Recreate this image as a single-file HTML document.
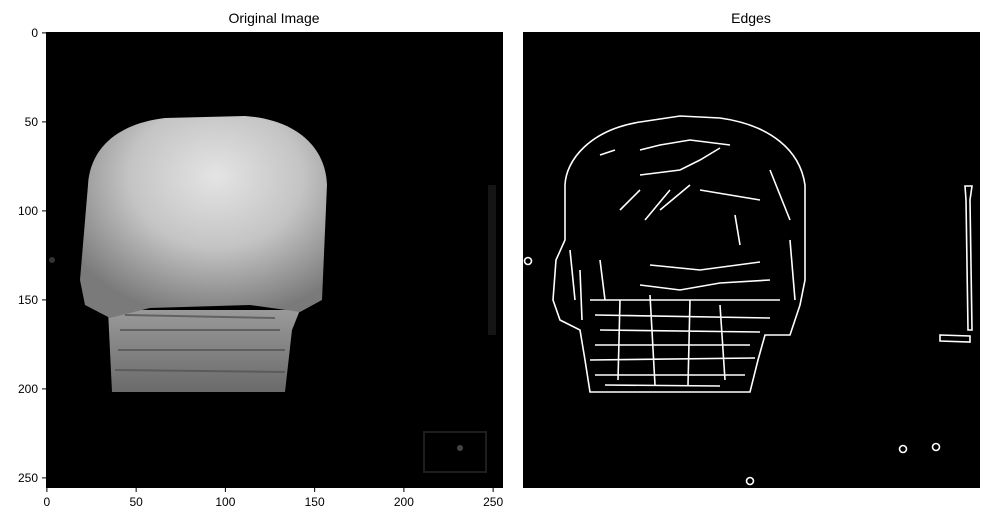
<!DOCTYPE html>
<html><head><meta charset="utf-8"><style>
html,body{margin:0;padding:0;background:#fff;width:989px;height:522px;overflow:hidden;font-family:"Liberation Sans","DejaVu Sans",sans-serif}
</style></head><body>
<svg width="989" height="522" viewBox="0 0 989 522" xmlns="http://www.w3.org/2000/svg">
<defs>
<radialGradient id="g1" cx="0.55" cy="0.3" r="0.7">
<stop offset="0" stop-color="#e4e4e4"/><stop offset="0.5" stop-color="#c4c4c4"/><stop offset="1" stop-color="#7a7a7a"/>
</radialGradient>
<linearGradient id="g2" x1="0" y1="0" x2="0" y2="1">
<stop offset="0" stop-color="#9a9a9a"/><stop offset="1" stop-color="#6a6a6a"/>
</linearGradient>
</defs>
<text x="274" y="23" text-anchor="middle" font-size="14" fill="#000">Original Image</text>
<text x="751" y="23" text-anchor="middle" font-size="14" fill="#000">Edges</text>

<g>
<rect x="46" y="32" width="457" height="456" fill="#000"/>
<path d="M108,310 L112,392 L285,392 L292,330 L300,310 Z" fill="url(#g2)"/>
<path d="M88,185 C90,150 115,124 165,118 L245,116 C300,120 326,150 327,185 L322,300 L300,312 L250,305 L150,308 L110,318 L85,305 L80,280 Z" fill="url(#g1)"/>
<g stroke="#555" stroke-width="2" fill="none" opacity="0.8">
<path d="M120,330 L280,330 M118,350 L285,350 M115,370 L285,372 M125,315 L275,318"/>
</g>
<rect x="488" y="185" width="8" height="150" fill="#151515"/>
<rect x="424" y="432" width="62" height="40" fill="none" stroke="#1e1e1e" stroke-width="2"/>
<circle cx="460" cy="448" r="3" fill="#444"/>
<circle cx="52" cy="260" r="3" fill="#333"/>
</g>

<g>
<rect x="523" y="32" width="457" height="456" fill="#000"/>
<g stroke="#fff" stroke-width="1.6" fill="none">
<path d="M565,185 C566,160 590,130 640,122 L680,116 L720,118 C770,125 800,150 805,185 L805,280 L800,305 L790,335 L765,335 L758,360 L750,392 L590,392 L585,360 L580,330 L560,320 L553,300 L556,260 L565,240 Z"/>
<path d="M600,155 L615,150 M640,150 L660,145 L690,140 L730,145 M640,175 L680,170 L700,160 L720,148 M620,210 L640,190 M645,220 L670,190 M660,210 L690,185 M735,215 L740,245 M700,190 L730,195 L760,200 M770,170 L790,220 M580,270 L582,320 M600,260 L605,300 M650,265 L700,270 L760,262 M640,285 L680,290 L720,283 L770,280 M590,300 L780,300 M595,315 L770,318 M600,330 L760,332 M595,345 L750,345 M590,360 L755,358 M595,375 L745,375 M605,385 L720,386 M620,300 L618,380 M650,295 L655,385 M690,300 L688,385 M720,305 L725,380 M570,250 L575,300 M790,240 L795,300"/>
<path d="M965,186 L972,186 L970,200 L972,330 L968,330 L966,200 Z M940,335 L970,336 L970,342 L940,341 Z"/>
<circle cx="528" cy="261" r="3.5"/>
<circle cx="903" cy="449" r="3.5"/>
<circle cx="936" cy="447" r="3.5"/>
<circle cx="750" cy="481" r="3.5"/>
</g>
</g>

<g id="axes" font-size="12" fill="#000" stroke="none"></g>
</svg>
<script>
const xTicks=[0,50,100,150,200,250];
const yTicks=[0,50,100,150,200,250];
const ax=document.getElementById('axes');
const NS='http://www.w3.org/2000/svg';
const px=v=>46+(v+0.5)*1.785;
const py=v=>32+(v+0.5)*1.78;
xTicks.forEach(t=>{
  const l=document.createElementNS(NS,'line');
  l.setAttribute('x1',px(t));l.setAttribute('x2',px(t));l.setAttribute('y1',488);l.setAttribute('y2',492);l.setAttribute('stroke','#000');
  
  
  ax.appendChild(l);
  const tx=document.createElementNS(NS,'text');
  tx.setAttribute('x',px(t));tx.setAttribute('y',506);tx.setAttribute('text-anchor','middle');tx.textContent=t;
  
  
  ax.appendChild(tx);
});
yTicks.forEach(t=>{
  const l=document.createElementNS(NS,'line');
  l.setAttribute('x1',42);l.setAttribute('x2',46);l.setAttribute('y1',py(t));l.setAttribute('y2',py(t));l.setAttribute('stroke','#000');
  
  
  ax.appendChild(l);
  const tx=document.createElementNS(NS,'text');
  tx.setAttribute('x',38);tx.setAttribute('y',py(t)+4);tx.setAttribute('text-anchor','end');tx.textContent=t;
  
  
  ax.appendChild(tx);
});
</script>
</body></html>
